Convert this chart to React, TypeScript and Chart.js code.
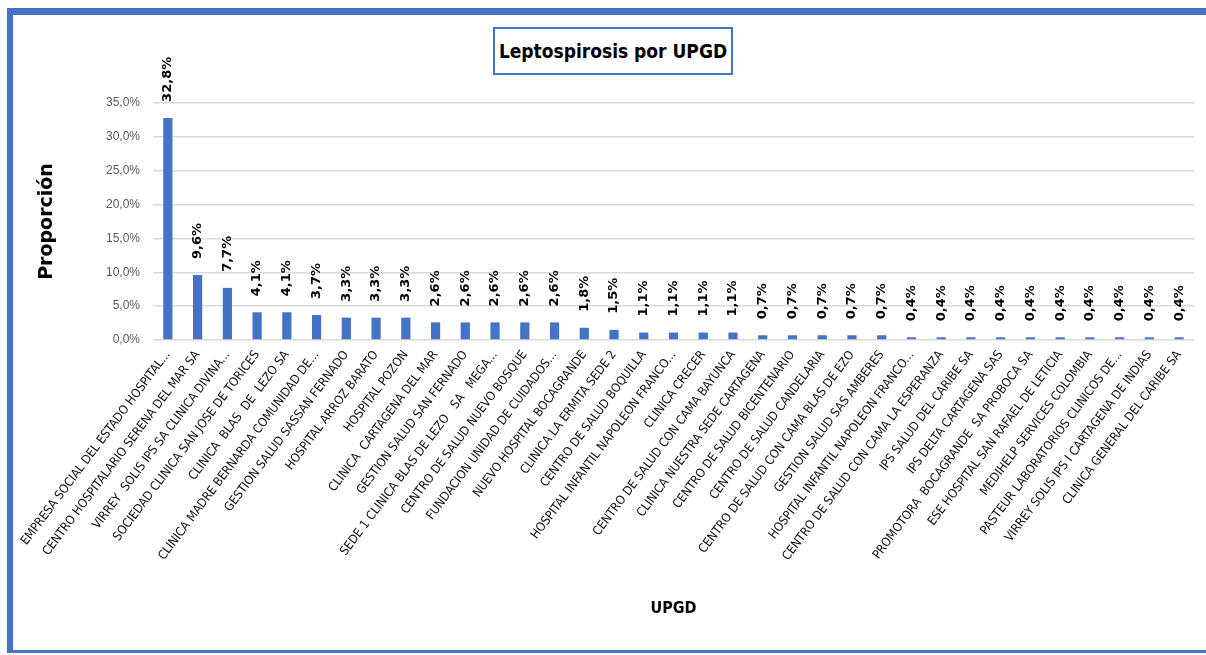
import { useEffect, useRef } from "react";
import { Chart, registerables } from "chart.js";

Chart.register(...registerables);

const chartTitle = "Leptospirosis por UPGD";
const yAxisTitle = "Proporción";
const xAxisTitle = "UPGD";

const categories = [
  "EMPRESA SOCIAL DEL ESTADO HOSPITAL...",
  "CENTRO HOSPITALARIO SERENA DEL MAR SA",
  "VIRREY  SOLIS IPS SA CLINICA DIVINA...",
  "SOCIEDAD CLINICA SAN JOSE DE TORICES",
  "CLINICA  BLAS  DE  LEZO SA",
  "CLINICA MADRE BERNARDA COMUNIDAD DE...",
  "GESTION SALUD SASSAN FERNADO",
  "HOSPITAL ARROZ BARATO",
  "HOSPITAL POZON",
  "CLINICA  CARTAGENA DEL MAR",
  "GESTION SALUD SAN FERNADO",
  "SEDE 1 CLINICA BLAS DE LEZO   SA   MEGA...",
  "CENTRO DE SALUD NUEVO BOSQUE",
  "FUNDACION UNIDAD DE CUIDADOS...",
  "NUEVO HOSPITAL BOCAGRANDE",
  "CLINICA LA ERMITA SEDE 2",
  "CENTRO DE SALUD BOQUILLA",
  "HOSPITAL INFANTIL NAPOLEON FRANCO...",
  "CLINICA CRECER",
  "CENTRO DE SALUD CON CAMA BAYUNCA",
  "CLINICA NUESTRA SEDE CARTAGENA",
  "CENTRO DE SALUD BICENTENARIO",
  "CENTRO DE SALUD CANDELARIA",
  "CENTRO DE SALUD CON CAMA BLAS DE EZO",
  "GESTION SALUD SAS AMBERES",
  "HOSPITAL INFANTIL NAPOLEON FRANCO...",
  "CENTRO DE SALUD CON CAMA LA ESPERANZA",
  "IPS SALUD DEL CARIBE SA",
  "IPS DELTA CARTAGENA SAS",
  "PROMOTORA  BOCAGRANDE  SA PROBOCA SA",
  "ESE HOSPITAL SAN RAFAEL DE LETICIA",
  "MEDIHELP SERVICES COLOMBIA",
  "PASTEUR LABORATORIOS CLINICOS DE...",
  "VIRREY SOLIS IPS I CARTAGENA DE INDIAS",
  "CLINICA GENERAL DEL CARIBE SA",
];

const proportions = [
  32.8, 9.6, 7.7, 4.1, 4.1, 3.7, 3.3, 3.3, 3.3, 2.6, 2.6, 2.6, 2.6, 2.6, 1.8,
  1.5, 1.1, 1.1, 1.1, 1.1, 0.7, 0.7, 0.7, 0.7, 0.7, 0.4, 0.4, 0.4, 0.4, 0.4,
  0.4, 0.4, 0.4, 0.4, 0.4,
];

const yTickMin = 0;
const yTickMax = 35;
const yTickStep = 5;

const fmtPct = (v: number) => v.toFixed(1).replace(".", ",") + "%";

const CONDENSED = '"DejaVu Sans Condensed", "Liberation Sans Narrow", sans-serif';
const PLAIN = '"Liberation Sans", Arial, sans-serif';

const barValueLabels = {
  id: "barValueLabels",
  afterDatasetsDraw(chart: any) {
    const ctx = chart.ctx as CanvasRenderingContext2D;
    const meta = chart.getDatasetMeta(0);
    const data = chart.data.datasets[0].data as number[];
    ctx.save();
    ctx.font = 'bold 13px "DejaVu Sans", sans-serif';
    ctx.fillStyle = "#000000";
    ctx.textAlign = "left";
    ctx.textBaseline = "middle";
    meta.data.forEach((bar: any, i: number) => {
      ctx.save();
      ctx.translate(bar.x, bar.y - 16);
      ctx.rotate(-Math.PI / 2);
      ctx.fillText(fmtPct(data[i]), 0, 0);
      ctx.restore();
    });
    ctx.restore();
  },
};

export default function App() {
  const canvasRef = useRef<HTMLCanvasElement | null>(null);

  useEffect(() => {
    document.body.style.margin = "0";
    const canvas = canvasRef.current;
    if (!canvas) return;
    const chart = new Chart(canvas, {
      type: "bar",
      data: {
        labels: categories,
        datasets: [
          {
            data: proportions,
            backgroundColor: "#4472C4",
            borderWidth: 0,
            barPercentage: 0.31,
            categoryPercentage: 1,
          },
        ],
      },
      options: {
        responsive: false,
        animation: false,
        devicePixelRatio: 1,
        layout: { padding: { left: 30, right: 12, top: 103, bottom: 30 } },
        plugins: {
          legend: { display: false },
          tooltip: { enabled: false },
          title: { display: false },
        },
        scales: {
          x: {
            grid: { display: false, drawTicks: false },
            border: { display: false },
            ticks: {
              autoSkip: false,
              maxRotation: 53,
              minRotation: 53,
              padding: 8,
              color: "#111111",
              font: { family: CONDENSED, size: 12.4 },
            },
            title: {
              display: true,
              text: xAxisTitle,
              color: "#000000",
              font: { family: CONDENSED, size: 16, weight: "bold" },
              padding: { top: 0, bottom: 7 },
            },
            afterFit: (scale: any) => {
              scale.height = 285;
            },
          },
          y: {
            min: yTickMin,
            max: yTickMax,
            grid: { color: "#d9d9d9", lineWidth: 1.5, drawTicks: false },
            border: { display: false },
            ticks: {
              stepSize: yTickStep,
              padding: 13,
              color: "#595959",
              font: { family: PLAIN, size: 12 },
              callback: (v: any) => fmtPct(Number(v)),
            },
            title: {
              display: true,
              text: yAxisTitle,
              color: "#000000",
              font: { family: '"DejaVu Sans", sans-serif', size: 19, weight: "bold" },
              padding: { top: 6, bottom: 0 },
            },
            afterFit: (scale: any) => {
              scale.width = 123;
            },
          },
        },
      },
      plugins: [barValueLabels],
    });
    return () => chart.destroy();
  }, []);

  return (
    <div style={{ position: "relative", width: 1206, height: 655, background: "#ffffff", overflow: "hidden" }}>
      <div
        style={{
          position: "absolute",
          left: 7,
          top: 8,
          width: 1199,
          height: 645,
          boxSizing: "border-box",
          borderTop: "7px solid #4472C4",
          borderLeft: "6px solid #4472C4",
          borderBottom: "3px solid #4472C4",
        }}
      />
      <canvas
        ref={canvasRef}
        width={1206}
        height={655}
        style={{ position: "absolute", left: 0, top: 0, width: 1206, height: 655 }}
      />
      <div
        style={{
          position: "absolute",
          left: 493,
          top: 27,
          width: 240,
          height: 48,
          boxSizing: "border-box",
          border: "2px solid #4472C4",
          background: "#ffffff",
          display: "flex",
          alignItems: "center",
          justifyContent: "center",
          fontFamily: CONDENSED,
          fontWeight: "bold",
          fontSize: 19,
          color: "#000000",
          whiteSpace: "nowrap",
        }}
      >
        {chartTitle}
      </div>
    </div>
  );
}
